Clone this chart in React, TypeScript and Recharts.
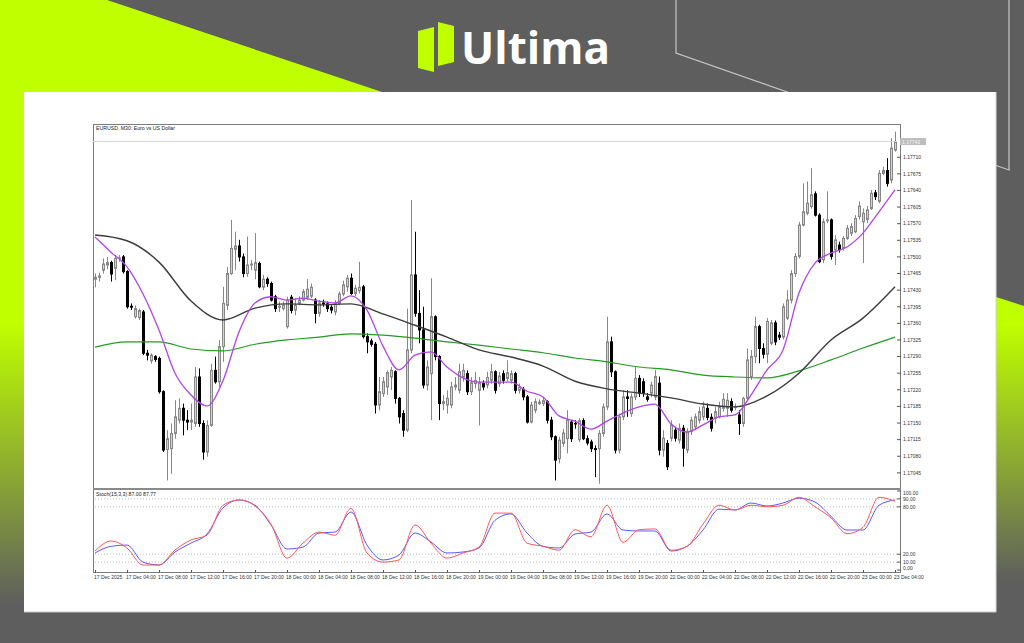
import React from "react";
import { ComposedChart, LineChart, Bar, Line, XAxis, YAxis, ReferenceLine } from "recharts";

// EURUSD M30 candles, 17 Dec 2025 00:00 .. 23 Dec 04:00 (201 bars)
const OPEN = [
  1.17453, 1.17457, 1.17472, 1.17483, 1.17488, 1.17476, 1.17497, 1.17500, 1.17469, 1.17396,
  1.17374, 1.17372, 1.17384, 1.17297, 1.17281, 1.17290, 1.17286, 1.17216, 1.17094, 1.17096,
  1.17128, 1.17156, 1.17181, 1.17156, 1.17152, 1.17149, 1.17247, 1.17149, 1.17089, 1.17145,
  1.17261, 1.17237, 1.17311, 1.17398, 1.17465, 1.17516, 1.17523, 1.17500, 1.17465, 1.17483,
  1.17472, 1.17486, 1.17436, 1.17453, 1.17444, 1.17416, 1.17394, 1.17391, 1.17353, 1.17415,
  1.17388, 1.17402, 1.17409, 1.17415, 1.17417, 1.17409, 1.17381, 1.17403, 1.17401, 1.17394,
  1.17384, 1.17402, 1.17422, 1.17437, 1.17455, 1.17423, 1.17429, 1.17437, 1.17332, 1.17323,
  1.17316, 1.17188, 1.17212, 1.17226, 1.17247, 1.17258, 1.17202, 1.17170, 1.17135, 1.17304,
  1.17462, 1.17381, 1.17346, 1.17230, 1.17254, 1.17374, 1.17290, 1.17191, 1.17188, 1.17188,
  1.17226, 1.17219, 1.17247, 1.17254, 1.17216, 1.17233, 1.17219, 1.17233, 1.17230, 1.17240,
  1.17258, 1.17233, 1.17254, 1.17244, 1.17240, 1.17254, 1.17219, 1.17221, 1.17205, 1.17152,
  1.17177, 1.17191, 1.17191, 1.17195, 1.17156, 1.17121, 1.17075, 1.17107, 1.17117, 1.17152,
  1.17149, 1.17115, 1.17155, 1.17117, 1.17110, 1.17096, 1.17096, 1.17128, 1.17184, 1.17321,
  1.17258, 1.17093, 1.17163, 1.17205, 1.17170, 1.17205, 1.17244, 1.17237, 1.17205, 1.17213,
  1.17205, 1.17234, 1.17093, 1.17107, 1.17118, 1.17135, 1.17114, 1.17139, 1.17093, 1.17132,
  1.17142, 1.17156, 1.17163, 1.17181, 1.17162, 1.17160, 1.17163, 1.17181, 1.17181, 1.17195,
  1.17183, 1.17167, 1.17149, 1.17202, 1.17248, 1.17290, 1.17353, 1.17307, 1.17295, 1.17318,
  1.17361, 1.17335, 1.17331, 1.17371, 1.17409, 1.17465, 1.17501, 1.17567, 1.17592, 1.17606,
  1.17633, 1.17588, 1.17494, 1.17576, 1.17578, 1.17515, 1.17525, 1.17518, 1.17539, 1.17550,
  1.17553, 1.17585, 1.17574, 1.17579, 1.17602, 1.17635, 1.17617, 1.17676, 1.17682, 1.17662,
  1.17725,
];
const CLOSE = [
  1.17457, 1.17460, 1.17485, 1.17488, 1.17464, 1.17497, 1.17498, 1.17469, 1.17395, 1.17394,
  1.17391, 1.17387, 1.17297, 1.17293, 1.17293, 1.17284, 1.17216, 1.17093, 1.17117, 1.17128,
  1.17163, 1.17181, 1.17156, 1.17152, 1.17156, 1.17247, 1.17149, 1.17089, 1.17145, 1.17261,
  1.17237, 1.17311, 1.17402, 1.17465, 1.17518, 1.17523, 1.17500, 1.17465, 1.17483, 1.17485,
  1.17488, 1.17437, 1.17453, 1.17444, 1.17409, 1.17391, 1.17396, 1.17398, 1.17409, 1.17387,
  1.17398, 1.17409, 1.17427, 1.17432, 1.17436, 1.17381, 1.17403, 1.17401, 1.17391, 1.17388,
  1.17402, 1.17422, 1.17441, 1.17455, 1.17423, 1.17434, 1.17436, 1.17332, 1.17321, 1.17316,
  1.17188, 1.17216, 1.17237, 1.17256, 1.17261, 1.17202, 1.17163, 1.17135, 1.17304, 1.17462,
  1.17381, 1.17346, 1.17230, 1.17268, 1.17374, 1.17290, 1.17191, 1.17195, 1.17202, 1.17226,
  1.17230, 1.17258, 1.17261, 1.17216, 1.17235, 1.17240, 1.17235, 1.17226, 1.17246, 1.17258,
  1.17219, 1.17249, 1.17240, 1.17256, 1.17254, 1.17219, 1.17225, 1.17205, 1.17152, 1.17188,
  1.17195, 1.17194, 1.17197, 1.17156, 1.17121, 1.17072, 1.17114, 1.17129, 1.17156, 1.17117,
  1.17148, 1.17155, 1.17117, 1.17108, 1.17096, 1.17094, 1.17128, 1.17184, 1.17321, 1.17258,
  1.17093, 1.17163, 1.17205, 1.17202, 1.17205, 1.17244, 1.17213, 1.17213, 1.17200, 1.17230,
  1.17248, 1.17093, 1.17118, 1.17058, 1.17146, 1.17118, 1.17139, 1.17097, 1.17132, 1.17156,
  1.17163, 1.17174, 1.17184, 1.17162, 1.17139, 1.17174, 1.17184, 1.17200, 1.17198, 1.17177,
  1.17184, 1.17149, 1.17202, 1.17283, 1.17290, 1.17353, 1.17307, 1.17295, 1.17364, 1.17361,
  1.17321, 1.17331, 1.17395, 1.17409, 1.17465, 1.17501, 1.17567, 1.17595, 1.17613, 1.17631,
  1.17588, 1.17490, 1.17574, 1.17578, 1.17501, 1.17536, 1.17515, 1.17539, 1.17560, 1.17564,
  1.17581, 1.17607, 1.17592, 1.17599, 1.17634, 1.17627, 1.17676, 1.17682, 1.17655, 1.17729,
  1.17743,
];
const HIGH = [
  1.17465, 1.17467, 1.17497, 1.17500, 1.17492, 1.17504, 1.17504, 1.17504, 1.17472, 1.17402,
  1.17398, 1.17391, 1.17388, 1.17304, 1.17297, 1.17293, 1.17290, 1.17219, 1.17135, 1.17149,
  1.17198, 1.17202, 1.17191, 1.17177, 1.17191, 1.17268, 1.17265, 1.17156, 1.17156, 1.17275,
  1.17290, 1.17325, 1.17437, 1.17479, 1.17578, 1.17553, 1.17536, 1.17507, 1.17543, 1.17493,
  1.17550, 1.17490, 1.17462, 1.17457, 1.17448, 1.17420, 1.17406, 1.17406, 1.17416, 1.17420,
  1.17413, 1.17417, 1.17432, 1.17453, 1.17444, 1.17413, 1.17409, 1.17410, 1.17406, 1.17398,
  1.17409, 1.17427, 1.17450, 1.17462, 1.17465, 1.17441, 1.17490, 1.17441, 1.17339, 1.17328,
  1.17321, 1.17247, 1.17247, 1.17261, 1.17268, 1.17261, 1.17205, 1.17177, 1.17391, 1.17620,
  1.17553, 1.17430, 1.17395, 1.17282, 1.17455, 1.17377, 1.17293, 1.17209, 1.17219, 1.17237,
  1.17247, 1.17275, 1.17275, 1.17261, 1.17247, 1.17258, 1.17247, 1.17240, 1.17258, 1.17275,
  1.17261, 1.17258, 1.17261, 1.17282, 1.17261, 1.17258, 1.17233, 1.17226, 1.17209, 1.17195,
  1.17202, 1.17200, 1.17205, 1.17198, 1.17163, 1.17124, 1.17121, 1.17138, 1.17177, 1.17156,
  1.17156, 1.17160, 1.17160, 1.17124, 1.17115, 1.17103, 1.17135, 1.17191, 1.17374, 1.17332,
  1.17261, 1.17170, 1.17219, 1.17219, 1.17212, 1.17268, 1.17251, 1.17244, 1.17213, 1.17237,
  1.17262, 1.17248, 1.17135, 1.17114, 1.17156, 1.17142, 1.17149, 1.17146, 1.17139, 1.17163,
  1.17170, 1.17184, 1.17195, 1.17191, 1.17170, 1.17184, 1.17195, 1.17213, 1.17213, 1.17202,
  1.17191, 1.17177, 1.17205, 1.17307, 1.17304, 1.17374, 1.17357, 1.17318, 1.17371, 1.17367,
  1.17366, 1.17342, 1.17402, 1.17430, 1.17472, 1.17508, 1.17574, 1.17655, 1.17659, 1.17687,
  1.17638, 1.17592, 1.17581, 1.17638, 1.17581, 1.17546, 1.17532, 1.17544, 1.17567, 1.17571,
  1.17588, 1.17617, 1.17602, 1.17607, 1.17641, 1.17641, 1.17683, 1.17690, 1.17708, 1.17750,
  1.17764,
];
const LOW = [
  1.17436, 1.17448, 1.17465, 1.17474, 1.17448, 1.17451, 1.17490, 1.17465, 1.17391, 1.17388,
  1.17370, 1.17367, 1.17293, 1.17282, 1.17275, 1.17279, 1.17212, 1.17089, 1.17029, 1.17043,
  1.17117, 1.17149, 1.17124, 1.17135, 1.17135, 1.17142, 1.17142, 1.17073, 1.17079, 1.17142,
  1.17233, 1.17226, 1.17279, 1.17388, 1.17462, 1.17472, 1.17490, 1.17457, 1.17458, 1.17472,
  1.17453, 1.17434, 1.17430, 1.17437, 1.17406, 1.17384, 1.17384, 1.17387, 1.17349, 1.17381,
  1.17377, 1.17398, 1.17406, 1.17409, 1.17413, 1.17360, 1.17374, 1.17395, 1.17384, 1.17381,
  1.17377, 1.17398, 1.17417, 1.17427, 1.17420, 1.17417, 1.17423, 1.17328, 1.17297, 1.17311,
  1.17170, 1.17177, 1.17205, 1.17209, 1.17219, 1.17191, 1.17149, 1.17121, 1.17131, 1.17297,
  1.17374, 1.17318, 1.17223, 1.17219, 1.17156, 1.17282, 1.17156, 1.17177, 1.17170, 1.17181,
  1.17219, 1.17212, 1.17237, 1.17209, 1.17209, 1.17223, 1.17145, 1.17219, 1.17223, 1.17233,
  1.17212, 1.17226, 1.17233, 1.17237, 1.17233, 1.17212, 1.17212, 1.17198, 1.17149, 1.17149,
  1.17171, 1.17188, 1.17186, 1.17149, 1.17114, 1.17029, 1.17065, 1.17100, 1.17086, 1.17110,
  1.17138, 1.17110, 1.17114, 1.17103, 1.17089, 1.17036, 1.17022, 1.17121, 1.17177, 1.17247,
  1.17086, 1.17086, 1.17156, 1.17163, 1.17163, 1.17198, 1.17205, 1.17205, 1.17195, 1.17205,
  1.17198, 1.17082, 1.17079, 1.17051, 1.17111, 1.17111, 1.17107, 1.17058, 1.17086, 1.17125,
  1.17135, 1.17149, 1.17156, 1.17156, 1.17132, 1.17149, 1.17160, 1.17174, 1.17163, 1.17172,
  1.17177, 1.17125, 1.17142, 1.17197, 1.17241, 1.17276, 1.17276, 1.17286, 1.17276, 1.17314,
  1.17314, 1.17325, 1.17326, 1.17367, 1.17402, 1.17458, 1.17497, 1.17564, 1.17588, 1.17602,
  1.17585, 1.17487, 1.17487, 1.17571, 1.17494, 1.17483, 1.17509, 1.17513, 1.17536, 1.17544,
  1.17550, 1.17579, 1.17487, 1.17571, 1.17599, 1.17620, 1.17613, 1.17673, 1.17648, 1.17655,
  1.17722,
];

// moving averages read every 4 bars (fast) and every 8 bars (mid, slow)
const MA_FAST = [
  1.17542, 1.17510, 1.17479, 1.17422, 1.17346, 1.17255, 1.17209, 1.17186, 1.17239, 1.17342,
  1.17403, 1.17416, 1.17409, 1.17413, 1.17407, 1.17403, 1.17418, 1.17388, 1.17312, 1.17262,
  1.17293, 1.17300, 1.17268, 1.17245, 1.17236, 1.17236, 1.17236, 1.17217, 1.17205, 1.17165,
  1.17154, 1.17137, 1.17154, 1.17171, 1.17184, 1.17190, 1.17148, 1.17131, 1.17146, 1.17163,
  1.17167, 1.17209, 1.17262, 1.17304, 1.17424, 1.17487, 1.17508, 1.17521, 1.17550, 1.17595,
  1.17641,
];
const MA_MID = [
  1.17546, 1.17534, 1.17489, 1.17407, 1.17367, 1.17392, 1.17401, 1.17399, 1.17401, 1.17380,
  1.17356, 1.17331, 1.17304, 1.17289, 1.17270, 1.17238, 1.17222, 1.17213, 1.17203, 1.17190,
  1.17184, 1.17207, 1.17255, 1.17325, 1.17371, 1.17437,
];
const MA_SLOW = [
  1.17310, 1.17321, 1.17321, 1.17306, 1.17302, 1.17316, 1.17325, 1.17331, 1.17338, 1.17335,
  1.17329, 1.17321, 1.17314, 1.17306, 1.17298, 1.17287, 1.17279, 1.17268, 1.17262, 1.17251,
  1.17247, 1.17245, 1.17260, 1.17283, 1.17308, 1.17331,
];

// stochastic (15,3,3), read every 4 bars
const STOCH_MAIN = [
  24, 36.7, 27.8, 6.3, 6.3, 25.3, 38, 44, 82, 88.6,
  81, 58, 15, 34, 48, 44, 78, 21.5, 10, 12.7,
  57, 34, 15, 21.5, 29, 72, 72, 34, 30, 25,
  51, 42, 82, 35, 51, 52, 25, 30, 58, 82,
  76, 82, 80, 82, 92, 80, 66, 46, 54, 92,
  87,
];
const STOCH_SIGNAL = [
  21.5, 30, 31.6, 10, 6.3, 22.8, 34, 45.6, 78.5, 88.6,
  82, 57, 26.6, 29, 46.8, 48, 73.4, 31.6, 12.7, 19,
  46.8, 35.4, 21.5, 22.8, 27.8, 63, 71, 46.8, 30, 27.8,
  45.6, 48, 71, 50.6, 49.4, 49.4, 24, 30, 50.6, 77,
  76, 84.8, 81, 84.8, 91, 86, 68, 50.6, 50.6, 82,
  88.6,
];

const TIME_LABELS = [
  "17 Dec 2025", "17 Dec 04:00", "17 Dec 08:00", "17 Dec 12:00", "17 Dec 16:00", "17 Dec 20:00",
  "18 Dec 00:00", "18 Dec 04:00", "18 Dec 08:00", "18 Dec 12:00", "18 Dec 16:00", "18 Dec 20:00",
  "19 Dec 00:00", "19 Dec 04:00", "19 Dec 08:00", "19 Dec 12:00", "19 Dec 16:00", "19 Dec 20:00",
  "22 Dec 00:00", "22 Dec 04:00", "22 Dec 08:00", "22 Dec 12:00", "22 Dec 16:00", "22 Dec 20:00",
  "23 Dec 00:00", "23 Dec 04:00",
];
const PRICE_TICKS = [
  1.17045, 1.1708, 1.17115, 1.1715, 1.17185, 1.1722, 1.17255, 1.1729, 1.17325, 1.1736,
  1.17395, 1.1743, 1.17465, 1.175, 1.17535, 1.1757, 1.17605, 1.1764, 1.17675, 1.1771,
];
const STOCH_TICKS = [0, 10, 20, 80, 90, 100];
const STOCH_LEVELS = [10, 20, 80, 90];

const rows = OPEN.map((o, i) => ({
  i,
  o,
  h: HIGH[i],
  l: LOW[i],
  c: CLOSE[i],
  range: [LOW[i], HIGH[i]],
  fast: i % 4 === 0 ? MA_FAST[i / 4] : null,
  mid: i % 8 === 0 ? MA_MID[i / 8] : null,
  slow: i % 8 === 0 ? MA_SLOW[i / 8] : null,
  k: i % 4 === 0 ? STOCH_MAIN[i / 4] : null,
  d: i % 4 === 0 ? STOCH_SIGNAL[i / 4] : null,
}));
const lastClose = CLOSE[CLOSE.length - 1];

const FONT = "'Liberation Sans', Arial, sans-serif";
const LIME = "#bfff00";
const GREY = "#5e5e5e";
const PLOT_W = 804;
const AXIS_W = 40;

function Candle(props: any) {
  const { x, y, width, height, payload } = props;
  if (!payload) return null;
  const { o, h, l, c } = payload;
  const top = Math.min(y, y + height);
  const span = Math.abs(height);
  const py = (v: number) => (h === l ? top : top + ((h - v) / (h - l)) * span);
  const cx = Math.round(x + width / 2);
  const up = c >= o;
  const b0 = py(Math.max(o, c));
  const b1 = py(Math.min(o, c));
  const col = up ? "#878787" : "#000";
  return (
    <g>
      <line x1={cx + 0.5} x2={cx + 0.5} y1={top} y2={top + span} stroke={col} strokeWidth={1} />
      <rect
        x={cx - 0.5}
        y={b0}
        width={2}
        height={Math.max(b1 - b0, 0.4)}
        fill={up ? "#d2d2d2" : "#000"}
        stroke={col}
        strokeWidth={1}
      />
    </g>
  );
}

function PriceTag(props: any) {
  const vb = props.viewBox || {};
  const x = vb.x + vb.width + 3;
  return (
    <g>
      <rect x={x} y={vb.y - 3.5} width={26} height={7} fill="#bdbdbd" />
      <text x={x + 2} y={vb.y + 2} fontSize={5} fill="#f4f4f4" fontFamily={FONT}>
        {lastClose.toFixed(5)}
      </text>
    </g>
  );
}

function TimeTick(props: any) {
  const { x, y, payload } = props;
  const label = TIME_LABELS[payload.value / 8];
  return (
    <g>
      <line x1={x + 0.5} x2={x + 0.5} y1={y - 4} y2={y - 1} stroke="#555" strokeWidth={1} />
      <text x={x - 1} y={y + 4.5} fontSize={5} fill="#333" fontFamily={FONT}>
        {label}
      </text>
    </g>
  );
}

function StochTick(props: any) {
  const { x, y, payload } = props;
  const v = payload.value;
  const shift = v === 100 ? 2.5 : v === 0 ? -1.5 : 0;
  return (
    <text x={x} y={y + 1.8 + shift} fontSize={5} fill="#333" fontFamily={FONT}>
      {v.toFixed(2)}
    </text>
  );
}

function Backdrop() {
  return (
    <svg width={1024} height={643} style={{ position: "absolute", left: 0, top: 0 }}>
      <defs>
        <linearGradient id="fadeL" x1="0" y1="92" x2="0" y2="643" gradientUnits="userSpaceOnUse">
          <stop offset="0.42" stopColor={LIME} />
          <stop offset="0.93" stopColor={GREY} />
        </linearGradient>
        <linearGradient id="fadeR" x1="0" y1="297" x2="0" y2="643" gradientUnits="userSpaceOnUse">
          <stop offset="0.08" stopColor={LIME} />
          <stop offset="0.82" stopColor={GREY} />
        </linearGradient>
      </defs>
      <rect x={0} y={0} width={1024} height={643} fill={GREY} />
      <polygon points="0,0 107,0 400,98 0,98" fill={LIME} />
      <rect x={0} y={92} width={40} height={551} fill="url(#fadeL)" />
      <polygon points="996,297 1024,306 1024,643 990,643" fill="url(#fadeR)" />
      <polyline points="676,0 676,53 1009,170 1009,0" fill="none" stroke="#c6c6c6" strokeWidth={1.2} />
      <rect x={24} y={92} width={972} height={520} fill="#fff" />
      <line x1={24} x2={996} y1={612} y2={612} stroke="#c9c9c9" />
      <line x1={996} x2={996} y1={92} y2={612} stroke="#d6d6d6" />
      <polygon points="418,31 434,27 434,72 418,68" fill={LIME} />
      <polygon points="438,22 454,26 454,62 438,66" fill={LIME} />
      <text x={461} y={64} fontSize={44} fontWeight={700} fill="#fff" fontFamily="'Open Sans', sans-serif">
        Ultima
      </text>
    </svg>
  );
}

export default function App() {
  return (
    <div style={{ position: "absolute", left: 0, top: 0, width: 1024, height: 643, overflow: "hidden", fontFamily: FONT }}>
      <Backdrop />

      {/* chart window frame */}
      <div style={{ position: "absolute", left: 93, top: 124, width: 808, height: 449, boxSizing: "border-box", border: "1px solid #7c7c7c" }} />
      <div style={{ position: "absolute", left: 93, top: 488, width: 808, height: 2, background: "#8a8a8a" }} />

      <div style={{ position: "absolute", left: 93, top: 124 }}>
        <ComposedChart
          width={PLOT_W + AXIS_W}
          height={365}
          data={rows}
          margin={{ top: 0, right: 0, bottom: 0, left: 0 }}
          barCategoryGap={0}
          barGap={0}
        >
          <XAxis dataKey="i" hide />
          <YAxis
            orientation="right"
            width={AXIS_W}
            domain={[1.17011, 1.1778]}
            allowDataOverflow
            ticks={PRICE_TICKS}
            interval={0}
            tickFormatter={(v: number) => v.toFixed(5)}
            tick={{ fontSize: 5, fill: "#333", fontFamily: FONT }}
            axisLine={false}
            tickLine={{ stroke: "#555" }}
            tickSize={4}
            tickMargin={2}
          />
          <ReferenceLine y={lastClose} stroke="#d4d4d4" strokeWidth={1} label={<PriceTag />} />
          <Bar dataKey="range" shape={(p: any) => <Candle {...p} />} isAnimationActive={false} />
          <Line type="monotone" dataKey="slow" stroke="#239b23" strokeWidth={1.2} dot={false} connectNulls isAnimationActive={false} />
          <Line type="monotone" dataKey="mid" stroke="#3c3c3c" strokeWidth={1.4} dot={false} connectNulls isAnimationActive={false} />
          <Line type="monotone" dataKey="fast" stroke="#b045e6" strokeWidth={1.3} dot={false} connectNulls isAnimationActive={false} />
        </ComposedChart>
      </div>

      <div style={{ position: "absolute", left: 96, top: 125, fontSize: 5.2, color: "#222", whiteSpace: "nowrap" }}>
        EURUSD, M30:  Euro vs US Dollar
      </div>

      <div style={{ position: "absolute", left: 93, top: 485 }}>
        <LineChart width={PLOT_W + AXIS_W} height={97} data={rows} margin={{ top: 6, right: 0, bottom: 0, left: 0 }}>
          <XAxis
            dataKey="i"
            scale="point"
            padding={{ left: 2, right: 2 }}
            ticks={TIME_LABELS.map((_, j) => j * 8)}
            interval={0}
            tick={<TimeTick />}
            axisLine={false}
            tickLine={false}
            tickSize={4}
            tickMargin={0}
            height={12}
          />
          <YAxis
            orientation="right"
            width={AXIS_W}
            domain={[0, 100]}
            ticks={STOCH_TICKS}
            interval={0}
            tick={<StochTick />}
            axisLine={false}
            tickLine={{ stroke: "#555" }}
            tickSize={4}
            tickMargin={2}
          />
          {STOCH_LEVELS.map((v) => (
            <ReferenceLine key={v} y={v} stroke="#bdbdbd" strokeDasharray="1 2" />
          ))}
          <Line type="monotone" dataKey="d" stroke="#5a5aff" strokeWidth={1} dot={false} connectNulls isAnimationActive={false} />
          <Line type="monotone" dataKey="k" stroke="#ff5a5a" strokeWidth={1} dot={false} connectNulls isAnimationActive={false} />
        </LineChart>
      </div>

      <div style={{ position: "absolute", left: 96, top: 491, fontSize: 5.2, color: "#222", whiteSpace: "nowrap" }}>
        Stoch(15,3,3) 87.00 87.77
      </div>
    </div>
  );
}
